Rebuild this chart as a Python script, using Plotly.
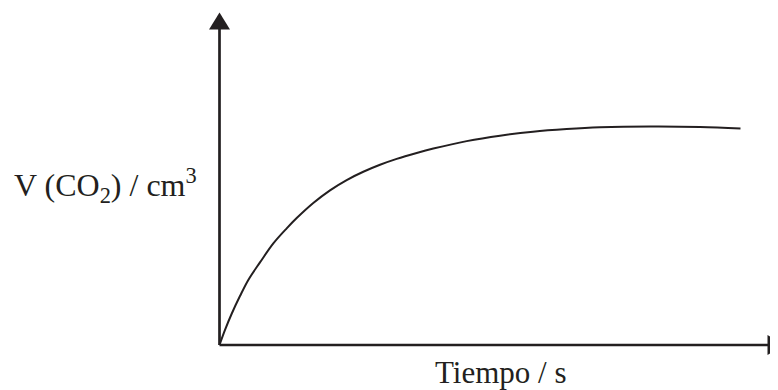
import plotly.graph_objects as go

# Curve data (arbitrary units)
tiempo = [0, 1.06, 2.34, 3.93, 5.53, 7.77, 10.33, 12.90, 14.82, 18.00, 21.21, 24.41,
          27.60, 30.81, 34.01, 37.85, 41.04, 47.45, 53.84, 60.17, 66.64, 73.03,
          82.63, 92.23, 100]
volumen = [0, 6.9, 14.3, 22.4, 29.8, 37.8, 46.5, 53.4, 58.1, 65.0, 70.8, 75.5,
           79.3, 82.5, 85.2, 87.9, 89.9, 93.3, 95.8, 97.6, 98.8, 99.6,
           100.0, 99.8, 99.1]

x_label = "Tiempo / s"
y_label = "V (CO<sub>2</sub>) / cm<sup>3</sup>"

OFF = 8                      # page body margin
W, H = 778 - OFF, 390 - OFF  # figure size so the page fits the window
ox, oy = 219.5, 345.0        # origin, page pixels
sx, sy = 5.21, 2.185         # px per unit

def X(px):
    return (px - ox) / sx

def Y(py):
    return (oy - py) / sy

def PX(px):
    return (px - OFF) / W

def PY(py):
    return 1 - (py - OFF) / H

ink = "#231f20"

fig = go.Figure()
fig.add_trace(go.Scatter(x=tiempo, y=volumen, mode="lines",
                         line=dict(color=ink, width=2, shape="spline", smoothing=1),
                         hoverinfo="skip", showlegend=False))

shapes = [
    dict(type="line", x0=0, y0=0, x1=0, y1=Y(28), line=dict(color=ink, width=2.7)),
    dict(type="line", x0=0, y0=0, x1=X(770), y1=0, line=dict(color=ink, width=2.7)),
    dict(type="path",
         path=f"M {X(ox-10.5)} {Y(29.5)} L {X(ox)} {Y(12.5)} L {X(ox+10.5)} {Y(29.5)} Z",
         fillcolor=ink, line=dict(color=ink, width=0)),
    dict(type="path",
         path=f"M {X(767.5)} {Y(oy-10)} L {X(785)} {Y(oy)} L {X(767.5)} {Y(oy+10)} Z",
         fillcolor=ink, line=dict(color=ink, width=0)),
]

fam = "Liberation Serif, Times New Roman, serif"
annotations = [
    dict(text=x_label, x=PX(501), y=PY(372), xref="paper", yref="paper",
         xanchor="center", yanchor="middle", showarrow=False,
         font=dict(family=fam, size=31, color=ink)),
    dict(text=y_label, x=PX(106), y=PY(185), xref="paper", yref="paper",
         xanchor="center", yanchor="middle", showarrow=False,
         font=dict(family=fam, size=32, color=ink)),
]

fig.update_layout(
    width=W, height=H,
    margin=dict(l=0, r=0, t=0, b=0),
    paper_bgcolor="white", plot_bgcolor="white",
    xaxis=dict(range=[X(OFF), X(778)], visible=False, fixedrange=True),
    yaxis=dict(range=[Y(390), Y(OFF)], visible=False, fixedrange=True),
    shapes=shapes, annotations=annotations,
)

fig.write_html("out.html")
